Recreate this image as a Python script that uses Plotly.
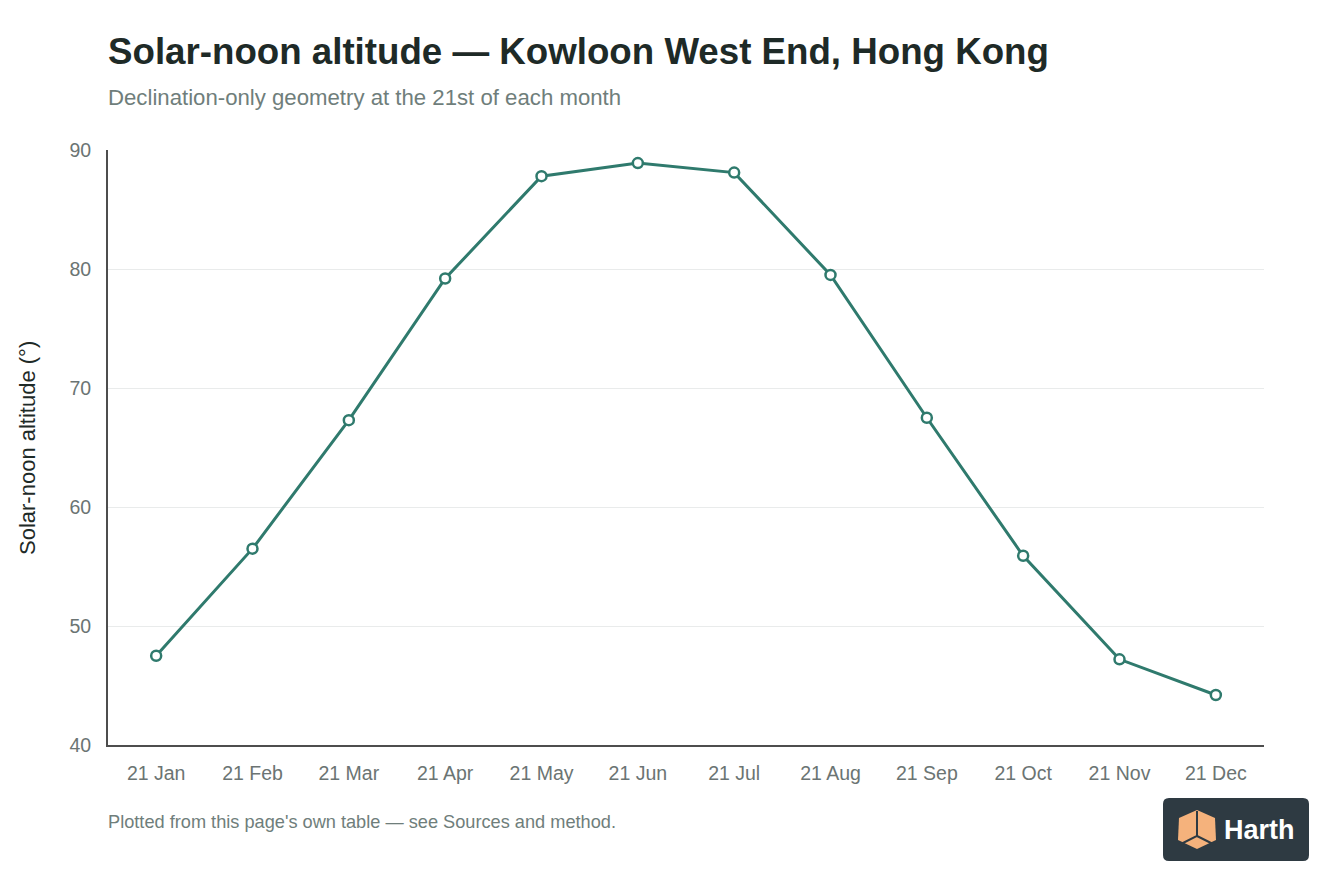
import plotly.graph_objects as go

# data
months = ['21 Jan', '21 Feb', '21 Mar', '21 Apr', '21 May', '21 Jun',
          '21 Jul', '21 Aug', '21 Sep', '21 Oct', '21 Nov', '21 Dec']
altitude = [47.5, 56.5, 67.3, 79.2, 87.8, 88.9, 88.1, 79.5, 67.5, 55.9, 47.2, 44.2]
y_ticks = [40, 50, 60, 70, 80, 90]

# the page adds an 8px body margin, so the figure is shrunk by that much
OFF = 8
W, H = 1344 - OFF, 896 - OFF
L, R, T, B = 108 - OFF, 80, 150 - OFF, 151
PW, PH = W - L - R, H - T - B

# screen-pixel helpers (reference coordinates) -> paper coordinates
PL, PB = 108, 745


def px(x):
    return (x - PL) / PW


def py(y):
    return (PB - y) / PH


FONT = 'Liberation Sans, Arial, sans-serif'
TEAL = '#2f7a6d'

fig = go.Figure()
fig.add_trace(go.Scatter(
    x=months, y=altitude,
    mode='lines+markers',
    line=dict(color=TEAL, width=3),
    marker=dict(size=10, color='white', line=dict(color=TEAL, width=2.5)),
    hoverinfo='x+y',
))

fig.update_layout(
    width=W, height=H,
    margin=dict(l=L, r=R, t=T, b=B),
    paper_bgcolor='white', plot_bgcolor='white',
    showlegend=False,
    font=dict(family=FONT, color='#6b7473', size=19),
    xaxis=dict(
        type='category', range=[-0.5, 11.5],
        showgrid=False, zeroline=False,
        showline=True, linecolor='#4d4d4d', linewidth=2,
        ticks='', ticklabelstandoff=10,
        tickfont=dict(size=19.5, color='#6b7473'),
    ),
    yaxis=dict(
        range=[40, 90], tickvals=y_ticks,
        showgrid=True, gridcolor='#e9ebeb', gridwidth=1,
        zeroline=False,
        showline=True, linecolor='#4d4d4d', linewidth=2,
        ticks='', ticklabelstandoff=11,
        tickfont=dict(size=19.5, color='#6b7473'),
    ),
)

annotations = [
    dict(text='<b>Solar-noon altitude — Kowloon West End, Hong Kong</b>',
         x=px(106), y=py(52), xref='paper', yref='paper', xanchor='left', yanchor='middle',
         showarrow=False, font=dict(size=36.7, color='#1e2a27', family=FONT)),
    dict(text='Declination-only geometry at the 21st of each month',
         x=px(106), y=py(97), xref='paper', yref='paper', xanchor='left', yanchor='middle',
         showarrow=False, font=dict(size=22.2, color='#6f7e7b', family=FONT)),
    dict(text='Solar-noon altitude (°)', textangle=-90,
         x=px(27), y=py(448), xref='paper', yref='paper', xanchor='center', yanchor='middle',
         showarrow=False, font=dict(size=22, color='#1e2a27', family=FONT)),
    dict(text="Plotted from this page's own table — see Sources and method.",
         x=px(106), y=py(822), xref='paper', yref='paper', xanchor='left', yanchor='middle',
         showarrow=False, font=dict(size=18.2, color='#6f7e7b', family=FONT)),
    dict(text='<b>Harth</b>',
         x=px(1259), y=py(830), xref='paper', yref='paper', xanchor='center', yanchor='middle',
         showarrow=False, font=dict(size=27, color='white', family=FONT)),
]
fig.update_layout(annotations=annotations)


def path(points, close=True):
    s = 'M ' + ' L '.join(f'{px(a):.5f},{py(b):.5f}' for a, b in points)
    return s + (' Z' if close else '')


# logo badge in the bottom right corner
x0, x1, y0, y1, r = 1163, 1309, 798, 861, 6
badge = (f'M {px(x0 + r):.5f},{py(y0):.5f} L {px(x1 - r):.5f},{py(y0):.5f} '
         f'Q {px(x1):.5f},{py(y0):.5f} {px(x1):.5f},{py(y0 + r):.5f} '
         f'L {px(x1):.5f},{py(y1 - r):.5f} '
         f'Q {px(x1):.5f},{py(y1):.5f} {px(x1 - r):.5f},{py(y1):.5f} '
         f'L {px(x0 + r):.5f},{py(y1):.5f} '
         f'Q {px(x0):.5f},{py(y1):.5f} {px(x0):.5f},{py(y1 - r):.5f} '
         f'L {px(x0):.5f},{py(y0 + r):.5f} '
         f'Q {px(x0):.5f},{py(y0):.5f} {px(x0 + r):.5f},{py(y0):.5f} Z')
shapes = [
    dict(type='path', xref='paper', yref='paper', path=badge,
         fillcolor='#2e3a42', line=dict(width=0)),
    dict(type='path', xref='paper', yref='paper',
         path=path([(1197, 810), (1215, 818), (1216, 840), (1197, 849), (1178, 840), (1179, 818)]),
         fillcolor='#f5b27c', line=dict(width=0)),
    dict(type='path', xref='paper', yref='paper',
         path=path([(1197, 811), (1197, 836), (1179, 845)], close=False),
         line=dict(color='#2e3a42', width=2)),
    dict(type='path', xref='paper', yref='paper',
         path=path([(1197, 836), (1215, 845)], close=False),
         line=dict(color='#2e3a42', width=2)),
]
fig.update_layout(shapes=shapes)

fig.write_html('out.html')
